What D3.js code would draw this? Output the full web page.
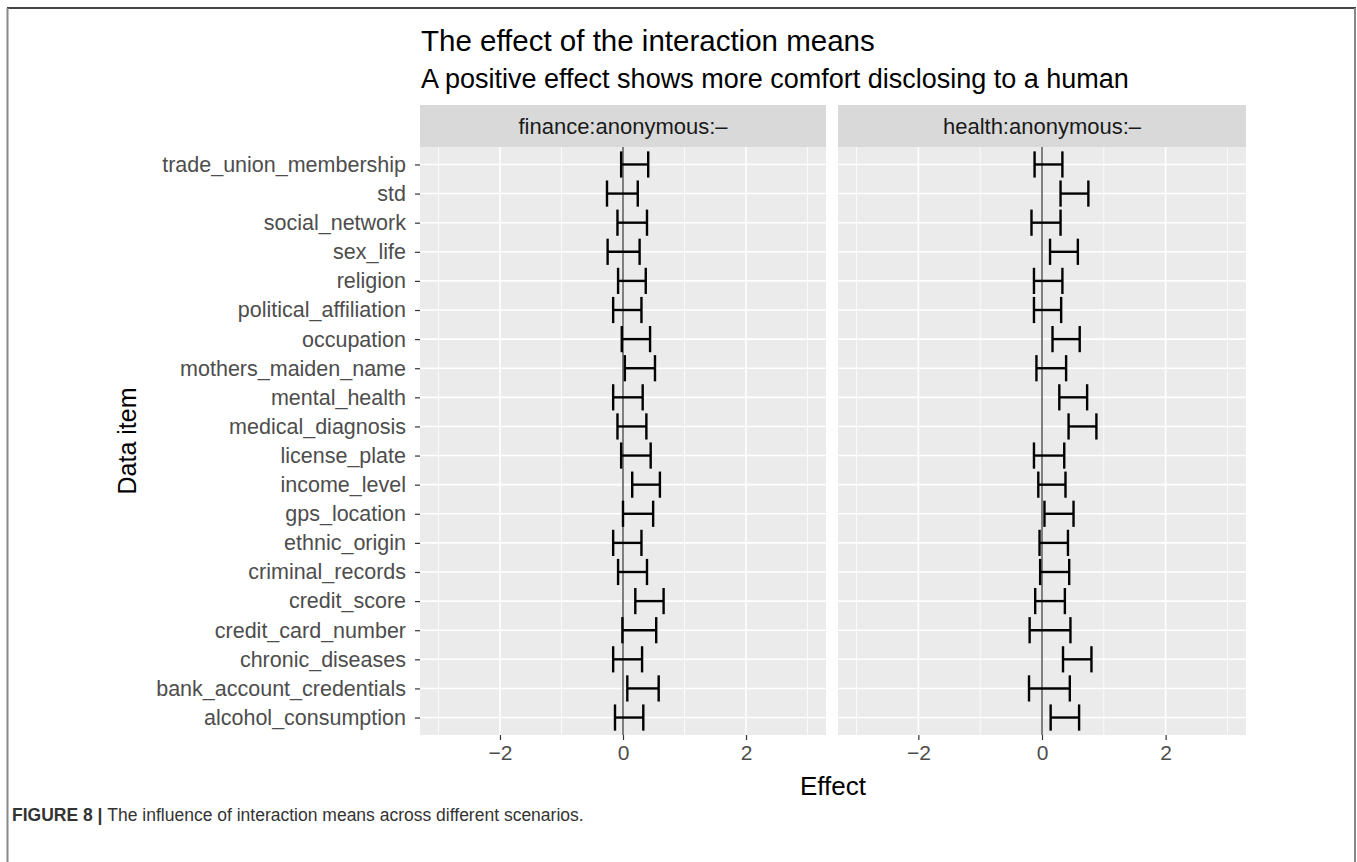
<!DOCTYPE html>
<html>
<head>
<meta charset="utf-8">
<script src="https://cdn.jsdelivr.net/npm/d3@7"></script>
<style>
  body { margin: 0; background: #fff; }
  svg { display: block; font-family: "Liberation Sans", Arial, sans-serif; }
</style>
</head>
<body>
<svg id="chart" width="1357" height="862"></svg>
<script>
// data items, alphabetical (ggplot draws first level at the bottom)
var items = ["alcohol_consumption", "bank_account_credentials", "chronic_diseases",
  "credit_card_number", "credit_score", "criminal_records", "ethnic_origin",
  "gps_location", "income_level", "license_plate", "medical_diagnosis",
  "mental_health", "mothers_maiden_name", "occupation", "political_affiliation",
  "religion", "sex_life", "social_network", "std", "trade_union_membership"];

var panels = ["finance:anonymous:\u2013", "health:anonymous:\u2013"];

var financeLow  = [-0.13, 0.07, -0.16, -0.01, 0.20, -0.08, -0.16, 0.00, 0.15, -0.03,
  -0.09, -0.16, 0.03, -0.02, -0.16, -0.08, -0.25, -0.09, -0.26, -0.03];
var financeHigh = [0.33, 0.58, 0.31, 0.54, 0.66, 0.39, 0.30, 0.49, 0.60, 0.45,
  0.38, 0.32, 0.52, 0.44, 0.30, 0.37, 0.27, 0.39, 0.24, 0.41];
var healthLow   = [0.14, -0.21, 0.34, -0.20, -0.11, -0.03, -0.04, 0.04, -0.06, -0.13,
  0.43, 0.28, -0.09, 0.17, -0.13, -0.13, 0.13, -0.17, 0.30, -0.12];
var healthHigh  = [0.60, 0.45, 0.80, 0.46, 0.37, 0.44, 0.42, 0.51, 0.38, 0.36,
  0.88, 0.73, 0.39, 0.61, 0.31, 0.33, 0.58, 0.30, 0.75, 0.33];

var xTicks = [-2, 0, 2];
var xMinor = [-3, -1, 1, 3];

(function() {
  var svg = d3.select("#chart");
  var W = 1357, H = 862;
  var font = "Liberation Sans, Arial, sans-serif";

  svg.append("rect").attr("width", W).attr("height", H).attr("fill", "#fff");

  // frame of the figure page
  svg.append("line").attr("x1", 7).attr("x2", 1356).attr("y1", 8).attr("y2", 8)
    .attr("stroke", "#444").attr("stroke-width", 2);
  svg.append("line").attr("x1", 7.5).attr("x2", 7.5).attr("y1", 8).attr("y2", H)
    .attr("stroke", "#888").attr("stroke-width", 2);
  svg.append("line").attr("x1", 1355).attr("x2", 1355).attr("y1", 8).attr("y2", H)
    .attr("stroke", "#888").attr("stroke-width", 2);

  var panelTop = 147, panelBottom = 735, stripTop = 105;
  var panelX = [[420, 826], [838, 1246]];

  var y = d3.scalePoint().domain(items.slice().reverse())
    .range([panelTop, panelBottom]).padding(0.6);
  var capW = y.step() * 0.9;

  var series = [
    items.map(function(d, i) { return {item: d, lo: financeLow[i], hi: financeHigh[i]}; }),
    items.map(function(d, i) { return {item: d, lo: healthLow[i], hi: healthHigh[i]}; })
  ];

  // titles
  svg.append("text").attr("x", 421).attr("y", 51)
    .attr("font-size", 29.5).attr("fill", "#000")
    .text("The effect of the interaction means");
  svg.append("text").attr("x", 421).attr("y", 88)
    .attr("font-size", 27).attr("fill", "#000")
    .text("A positive effect shows more comfort disclosing to a human");

  panels.forEach(function(name, p) {
    var x = d3.scaleLinear().domain([-3.3, 3.3]).range(panelX[p]);
    var g = svg.append("g");
    var x0 = panelX[p][0], x1 = panelX[p][1];

    // strip
    g.append("rect").attr("x", x0).attr("y", stripTop).attr("width", x1 - x0)
      .attr("height", panelTop - stripTop).attr("fill", "#d9d9d9");
    g.append("text").attr("x", (x0 + x1) / 2).attr("y", (stripTop + panelTop) / 2 + 7.5)
      .attr("text-anchor", "middle").attr("font-size", 22).attr("fill", "#1a1a1a")
      .text(name);

    // panel background + grid
    g.append("rect").attr("x", x0).attr("y", panelTop).attr("width", x1 - x0)
      .attr("height", panelBottom - panelTop).attr("fill", "#ebebeb");
    g.selectAll(".minor").data(xMinor).enter().append("line")
      .attr("x1", function(d) { return x(d); }).attr("x2", function(d) { return x(d); })
      .attr("y1", panelTop).attr("y2", panelBottom)
      .attr("stroke", "#fff").attr("stroke-width", 0.8);
    g.selectAll(".major").data(xTicks).enter().append("line")
      .attr("x1", function(d) { return x(d); }).attr("x2", function(d) { return x(d); })
      .attr("y1", panelTop).attr("y2", panelBottom)
      .attr("stroke", "#fff").attr("stroke-width", 1.6);
    g.selectAll(".hgrid").data(items).enter().append("line")
      .attr("x1", x0).attr("x2", x1)
      .attr("y1", function(d) { return y(d); }).attr("y2", function(d) { return y(d); })
      .attr("stroke", "#fff").attr("stroke-width", 1.6);

    // zero reference line
    g.append("line").attr("x1", x(0)).attr("x2", x(0))
      .attr("y1", panelTop).attr("y2", panelBottom)
      .attr("stroke", "#7f7f7f").attr("stroke-width", 2);

    // error bars
    var bars = g.selectAll(".bar").data(series[p]).enter().append("g")
      .attr("stroke", "#000").attr("stroke-width", 2.4).attr("fill", "none");
    bars.append("line")
      .attr("x1", function(d) { return x(d.lo); }).attr("x2", function(d) { return x(d.hi); })
      .attr("y1", function(d) { return y(d.item); }).attr("y2", function(d) { return y(d.item); });
    bars.append("line")
      .attr("x1", function(d) { return x(d.lo); }).attr("x2", function(d) { return x(d.lo); })
      .attr("y1", function(d) { return y(d.item) - capW / 2; })
      .attr("y2", function(d) { return y(d.item) + capW / 2; });
    bars.append("line")
      .attr("x1", function(d) { return x(d.hi); }).attr("x2", function(d) { return x(d.hi); })
      .attr("y1", function(d) { return y(d.item) - capW / 2; })
      .attr("y2", function(d) { return y(d.item) + capW / 2; });

    // x axis
    var xa = g.append("g").attr("transform", "translate(0," + panelBottom + ")")
      .call(d3.axisBottom(x).tickValues(xTicks).tickSize(5).tickPadding(5)
        .tickFormat(function(d) { return d < 0 ? "\u2212" + Math.abs(d) : d; }));
    xa.select(".domain").remove();
    xa.selectAll("line").attr("stroke", "#333").attr("stroke-width", 1.2);
    xa.selectAll("text").attr("font-size", 21).attr("fill", "#4d4d4d").attr("font-family", font);

    // y axis on the first panel only
    if (p === 0) {
      var ya = g.append("g").attr("transform", "translate(" + x0 + ",0)")
        .call(d3.axisLeft(y).tickSize(5).tickPadding(9));
      ya.select(".domain").remove();
      ya.selectAll("line").attr("stroke", "#333").attr("stroke-width", 1.2);
      ya.selectAll("text").attr("font-size", 21.5).attr("fill", "#4d4d4d").attr("font-family", font);
    }
  });

  // axis titles
  svg.append("text").attr("x", (panelX[0][0] + panelX[1][1]) / 2).attr("y", 795)
    .attr("text-anchor", "middle").attr("font-size", 26).attr("fill", "#000")
    .text("Effect");
  svg.append("text")
    .attr("transform", "translate(136," + (panelTop + panelBottom) / 2 + ") rotate(-90)")
    .attr("text-anchor", "middle").attr("font-size", 25).attr("fill", "#000")
    .text("Data item");

  // figure caption
  var cap = svg.append("text").attr("x", 12).attr("y", 821)
    .attr("font-size", 17.5).attr("fill", "#333");
  cap.append("tspan").attr("font-weight", "bold").text("FIGURE 8 | ");
  cap.append("tspan").text("The influence of interaction means across different scenarios.");
})();
</script>
</body>
</html>
